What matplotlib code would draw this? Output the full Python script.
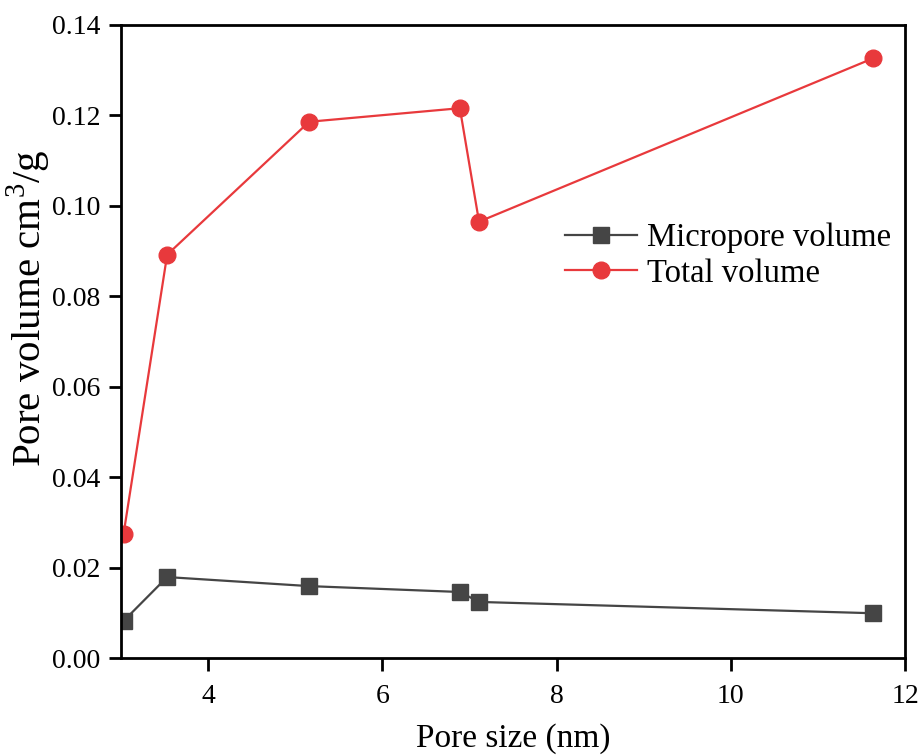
import matplotlib
matplotlib.use("Agg")
import matplotlib.pyplot as plt

pore_size = [3.03, 3.53, 5.16, 6.89, 7.11, 11.63]
micropore_volume = [0.0082, 0.0179, 0.0159, 0.0146, 0.0124, 0.0099]
total_volume = [0.0275, 0.0892, 0.1186, 0.1216, 0.0965, 0.1326]

plt.rcParams['font.family'] = ['Liberation Serif', 'DejaVu Serif']
plt.rcParams['mathtext.fontset'] = 'custom'
plt.rcParams['mathtext.rm'] = 'Liberation Serif'

fig = plt.figure(figsize=(9.22, 7.56), dpi=100)
ax = fig.add_axes([121 / 922, 1 - 658 / 756, (905 - 121) / 922, (658 - 25) / 756])

ax.plot(pore_size, micropore_volume, color='#454545', marker='s', markersize=11,
        linewidth=1.6, label='Micropore volume')
ax.plot(pore_size, total_volume, color='#e8393c', marker='o', markersize=12,
        linewidth=1.6, label='Total volume')

ax.set_xlim(3.0, 12)
ax.set_ylim(0, 0.14)
ax.set_xticks([4, 6, 8, 10, 12])
ax.set_yticks([0.00, 0.02, 0.04, 0.06, 0.08, 0.10, 0.12, 0.14])
ax.yaxis.set_major_formatter(matplotlib.ticker.FormatStrFormatter('%.2f'))
ax.tick_params(direction='out', length=9, width=2, labelsize=20, pad=6)
ax.tick_params(axis='x', pad=10)
for s in ax.spines.values():
    s.set_linewidth(2)

ax.set_xlabel('Pore size (nm)', fontsize=24, labelpad=10)
ax.set_ylabel('Pore volume cm$^{\\mathrm{3}}$/g', fontsize=29.5)
ax.yaxis.set_label_coords(-0.087, 0.553)

ax.legend(loc='upper left', bbox_to_anchor=(0.55, 0.708), frameon=False, fontsize=23.5,
          handlelength=2.2, handletextpad=0.3, labelspacing=0.15, borderaxespad=0)

fig.savefig('out.png', dpi=100)
